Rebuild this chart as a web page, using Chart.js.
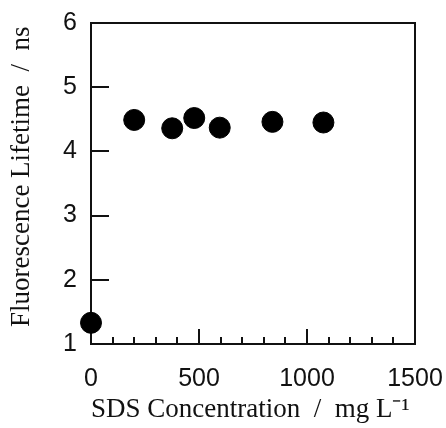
<!DOCTYPE html>
<html>
<head>
<meta charset="utf-8">
<script src="https://cdn.jsdelivr.net/npm/chart.js@4"></script>
<style>
  html, body { margin: 0; padding: 0; background: #fff; }
  #wrap { width: 446px; height: 428px; }
</style>
</head>
<body>
<div id="wrap"><canvas id="ch" width="446" height="428"></canvas></div>
<script>
// valori
const sdsConc  = [0, 200, 376, 478, 596, 840, 1076];
const lifetime = [1.33, 4.49, 4.36, 4.52, 4.37, 4.46, 4.45];
const xTicks = [0, 500, 1000, 1500];
const yTicks = [1, 2, 3, 4, 5, 6];
const xMinor = [100, 200, 300, 400, 600, 700, 800, 900, 1100, 1200, 1300, 1400];
const xMajor = [500, 1000];

const INK = '#111';

/* cornice + tacche interne, disegnate via le scale */
const frameTicks = {
  id: 'frameTicks',
  beforeDatasetsDraw(chart) {
    const { ctx, chartArea: a, scales: { x, y } } = chart;
    ctx.save();
    ctx.strokeStyle = INK;
    ctx.lineWidth = 2;
    ctx.strokeRect(a.left, a.top, a.right - a.left, a.bottom - a.top);
    ctx.beginPath();
    yTicks.slice(1, -1).forEach(v => {
      const py = Math.round(y.getPixelForValue(v));
      ctx.moveTo(a.left, py); ctx.lineTo(a.left + 18, py);
    });
    xMinor.forEach(v => {
      const px = Math.round(x.getPixelForValue(v));
      ctx.moveTo(px, a.bottom); ctx.lineTo(px, a.bottom - 7);
    });
    xMajor.forEach(v => {
      const px = Math.round(x.getPixelForValue(v));
      ctx.moveTo(px, a.bottom); ctx.lineTo(px, a.bottom - 15);
    });
    ctx.stroke();
    ctx.restore();
  }
};

new Chart(document.getElementById('ch'), {
  type: 'scatter',
  data: {
    datasets: [{
      data: sdsConc.map((v, i) => ({ x: v, y: lifetime[i] })),
      backgroundColor: '#000', borderColor: '#000',
      pointRadius: 10.5, pointHoverRadius: 10.5, clip: false
    }]
  },
  options: {
    responsive: false, animation: false,
    layout: { padding: 0 },
    plugins: { legend: { display: false }, tooltip: { enabled: false } },
    scales: {
      x: {
        type: 'linear', min: 0, max: 1500,
        afterBuildTicks: s => { s.ticks = xTicks.map(v => ({ value: v })); },
        grid: { display: false }, border: { display: false },
        ticks: { color: INK, padding: 12, maxRotation: 0, callback: v => String(v),
                 font: { family: 'Liberation Sans, Arial', size: 25 } },
        title: { display: true, align: 'start', text: 'SDS Concentration  /  mg L⁻¹', color: INK,
                 padding: { top: 0, bottom: 2 },
                 font: { family: 'Liberation Serif, Times New Roman', size: 27 } },
        // margini fissi dell'area del grafico
        afterFit: s => { s.height = 84; s.paddingRight = 31; s.paddingLeft = 0; }
      },
      y: {
        type: 'linear', min: 1, max: 6,
        afterBuildTicks: s => { s.ticks = yTicks.map(v => ({ value: v })); },
        grid: { display: false }, border: { display: false },
        ticks: { color: INK, padding: 6, callback: v => String(v),
                 font: { family: 'Liberation Sans, Arial', size: 25 } },
        title: { display: true, text: '  Fluorescence Lifetime  /  ns', color: INK, padding: { top: 6, bottom: 0 },
                 font: { family: 'Liberation Serif, Times New Roman', size: 27 } },
        afterFit: s => { s.width = 91; s.paddingTop = 23; s.paddingBottom = 0; }
      }
    }
  },
  plugins: [frameTicks]
});
</script>
</body>
</html>
